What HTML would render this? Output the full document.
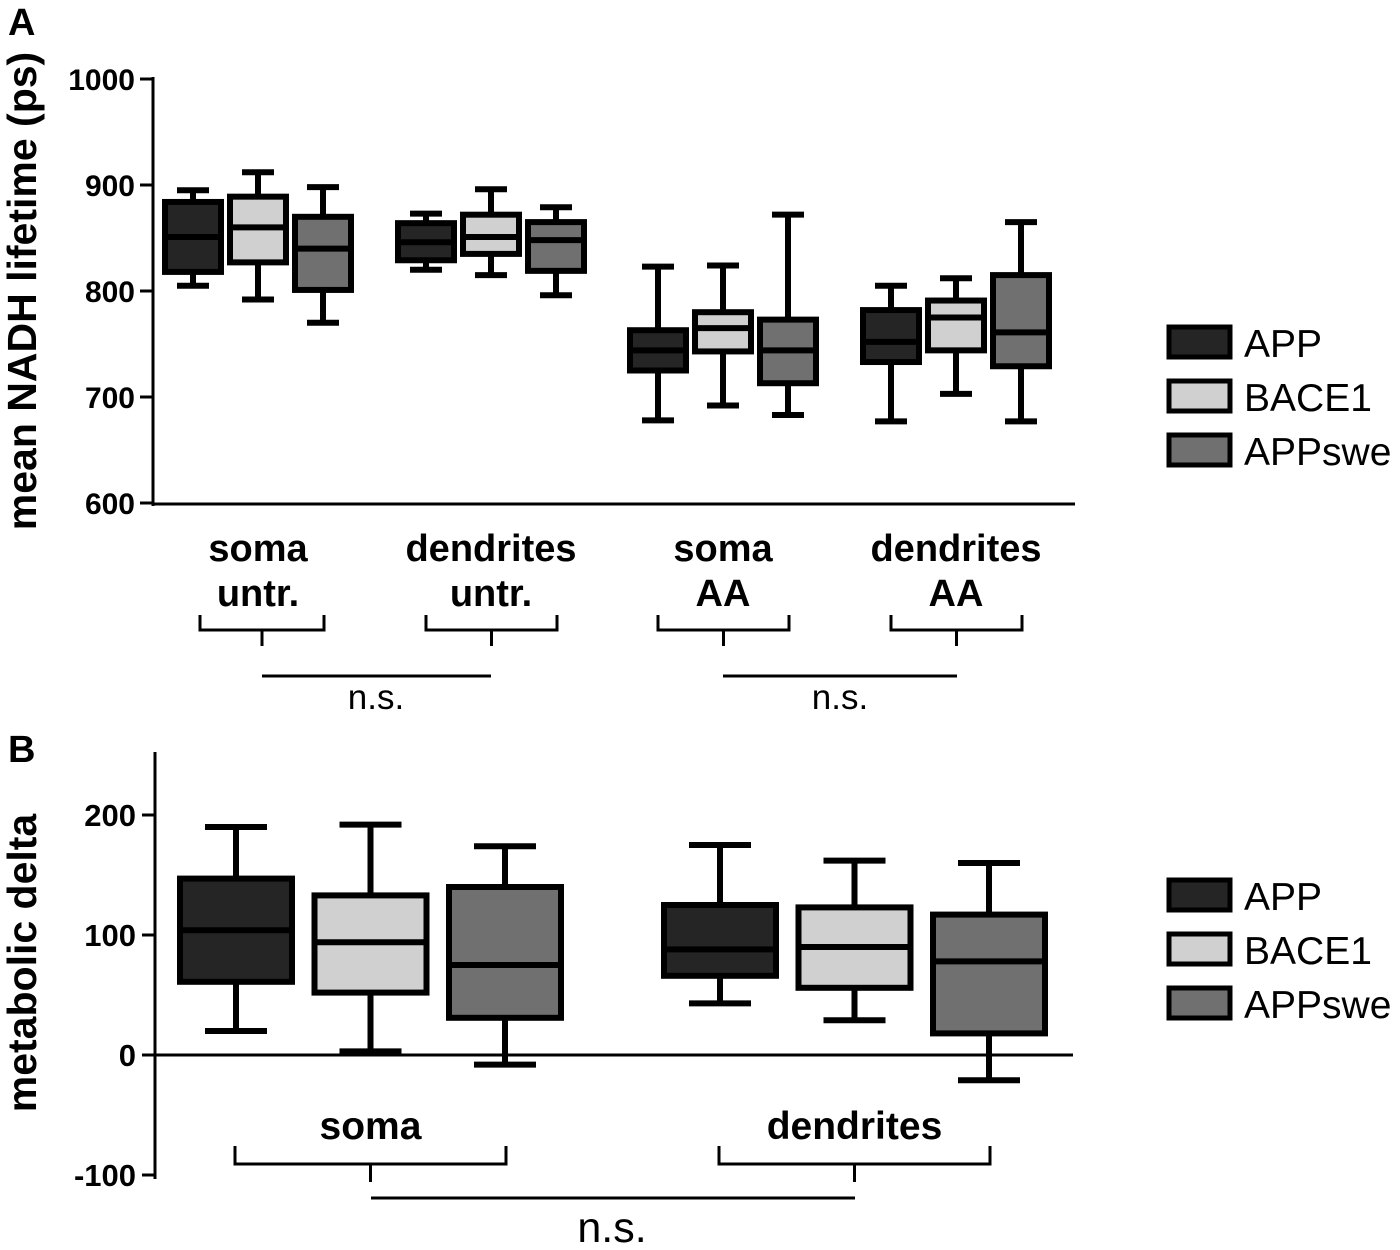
<!DOCTYPE html>
<html><head><meta charset="utf-8"><style>
body{margin:0;background:#fff}
svg{display:block;font-family:"Liberation Sans",Arial,sans-serif}
</style></head><body>
<svg id="fig" width="1400" height="1250" viewBox="0 0 1400 1250">
<text x="8" y="35" font-size="38" font-weight="bold">A</text>
<text x="8" y="762" font-size="38" font-weight="bold">B</text>
<text transform="translate(36,291) rotate(-90)" text-anchor="middle" font-size="41" font-weight="bold">mean NADH lifetime (ps)</text>
<text transform="translate(36,963) rotate(-90)" text-anchor="middle" font-size="41" font-weight="bold">metabolic delta</text>
<g id="ga"></g><g id="gb"></g><g id="deco"></g>
</svg>
<script>
var NS='http://www.w3.org/2000/svg';
var seriesNames=['APP','BACE1','APPswe'];
var fills=['#252525','#d0d0d0','#707070'];
// Panel A: [whiskerLow, q1, median, q3, whiskerHigh]
var catsA=['soma untr.','dendrites untr.','soma AA','dendrites AA'];
var appA=[[805,818,851,884,895],[820,829,846,864,873],[678,725,744,763,823],[677,733,752,782,805]];
var baceA=[[792,827,860,889,912],[815,835,851,872,896],[692,743,765,780,824],[703,744,775,791,812]];
var sweA=[[770,801,840,870,898],[796,819,848,865,879],[683,713,744,773,872],[677,729,761,815,865]];
var ticksA=[600,700,800,900,1000];
// Panel B
var catsB=['soma','dendrites'];
var appB=[[20,61,104,147,190],[43,66,88,125,175]];
var baceB=[[3,52,94,133,192],[29,56,90,123,162]];
var sweB=[[-8,31,75,140,174],[-21,18,78,117,160]];
var ticksB=[-100,0,100,200];

function el(p,tag,attrs){var e=document.createElementNS(NS,tag);for(var k in attrs)e.setAttribute(k,attrs[k]);p.appendChild(e);return e;}
function yA(v){return 79+(1000-v)*1.06;}
function yB(v){return 1055-v*1.2;}
function xA(ci,si){return [193,426,658,891][ci]+si*65;}
function xB(ci,si){return [236,720][ci]+si*134.5;}

function box(g,x,w,cw,d,y,fill,name){
  var gg=el(g,'g',{});
  
  
  var s={stroke:'#000','stroke-width':6};
  el(gg,'line',Object.assign({x1:x,x2:x,y1:y(d[4]),y2:y(d[0])},s));
  el(gg,'line',Object.assign({x1:x-cw/2,x2:x+cw/2,y1:y(d[4]),y2:y(d[4])},s));
  el(gg,'line',Object.assign({x1:x-cw/2,x2:x+cw/2,y1:y(d[0]),y2:y(d[0])},s));
  el(gg,'rect',Object.assign({x:x-w/2,y:y(d[3]),width:w,height:y(d[1])-y(d[3]),fill:fill},s));
  el(gg,'line',Object.assign({x1:x-w/2,x2:x+w/2,y1:y(d[2]),y2:y(d[2])},s));
}
var ga=document.getElementById('ga'),gb=document.getElementById('gb'),dc=document.getElementById('deco');
var A=[appA,baceA,sweA],B=[appB,baceB,sweB];
// axes A
el(ga,'line',{x1:153,x2:153,y1:77,y2:506,stroke:'#000','stroke-width':3});
el(ga,'line',{x1:152,x2:1075,y1:504,y2:504,stroke:'#000','stroke-width':3});
ticksA.forEach(function(t){
  el(ga,'line',{x1:140,x2:153,y1:yA(t),y2:yA(t),stroke:'#000','stroke-width':3});
  var tx=el(ga,'text',{x:135,y:yA(t)+11,'text-anchor':'end','font-size':30,'font-weight':'bold'});
  tx.textContent=t;
  
  
});
for(var s=0;s<3;s++)for(var c=0;c<4;c++)box(ga,xA(c,s),56,32,A[s][c],yA,fills[s],'box-a-'+seriesNames[s].toLowerCase()+'-'+c);
// axes B
el(gb,'line',{x1:155,x2:155,y1:752,y2:1179,stroke:'#000','stroke-width':3});
el(gb,'line',{x1:155,x2:1073,y1:yB(0),y2:yB(0),stroke:'#000','stroke-width':3});
ticksB.forEach(function(t){
  el(gb,'line',{x1:142,x2:155,y1:yB(t),y2:yB(t),stroke:'#000','stroke-width':3});
  var tx=el(gb,'text',{x:136,y:yB(t)+11,'text-anchor':'end','font-size':31,'font-weight':'bold'});
  tx.textContent=t;
  
  
});
for(var s=0;s<3;s++)for(var c=0;c<2;c++)box(gb,xB(c,s),112,62,B[s][c],yB,fills[s],'box-b-'+seriesNames[s].toLowerCase()+'-'+c);
// category labels A
catsA.forEach(function(c,i){
  var parts=c.split(' '),cx=xA(i,1);
  var t1=el(dc,'text',{x:cx,y:561,'text-anchor':'middle','font-size':38,'font-weight':'bold'});t1.textContent=parts[0];
  
  
  var t2=el(dc,'text',{x:cx,y:606,'text-anchor':'middle','font-size':38,'font-weight':'bold'});t2.textContent=parts[1];
  
  
  var l=xA(i,0)+(i==0?7:0),r=xA(i,2)+1;
  el(dc,'path',{d:'M'+l+' 615 V630 H'+r+' V615 M'+(l+r)/2+' 630 V646',fill:'none',stroke:'#000','stroke-width':3});
});
el(dc,'line',{x1:262,x2:491,y1:676,y2:676,stroke:'#000','stroke-width':3});
el(dc,'line',{x1:723,x2:957,y1:676,y2:676,stroke:'#000','stroke-width':3});
[376,840].forEach(function(x,i){var t=el(dc,'text',{x:x,y:709,'text-anchor':'middle','font-size':35});t.textContent='n.s.';
  
  });
// category labels B
catsB.forEach(function(c,i){
  var cx=xB(i,1);
  var t=el(dc,'text',{x:cx,y:1139,'text-anchor':'middle','font-size':39,'font-weight':'bold'});t.textContent=c;
  
  
  var l=xB(i,0)-1,r=xB(i,2)+1;
  el(dc,'path',{d:'M'+l+' 1146 V1164 H'+r+' V1146 M'+cx+' 1164 V1182',fill:'none',stroke:'#000','stroke-width':3});
});
el(dc,'line',{x1:371,x2:855,y1:1198,y2:1198,stroke:'#000','stroke-width':3});
var nb=el(dc,'text',{x:612,y:1242,'text-anchor':'middle','font-size':43});nb.textContent='n.s.';


// legends
[[327,'a'],[880,'b']].forEach(function(L){
  for(var s=0;s<3;s++){
    var g=el(dc,'g',{});
    
    
    var y=L[0]+s*54;
    el(g,'rect',{x:1169,y:y,width:61,height:30,fill:fills[s],stroke:'#000','stroke-width':5});
    var t=el(g,'text',{x:1244,y:y+30,'font-size':39});t.textContent=seriesNames[s];
  }
});
</script>
</body></html>
